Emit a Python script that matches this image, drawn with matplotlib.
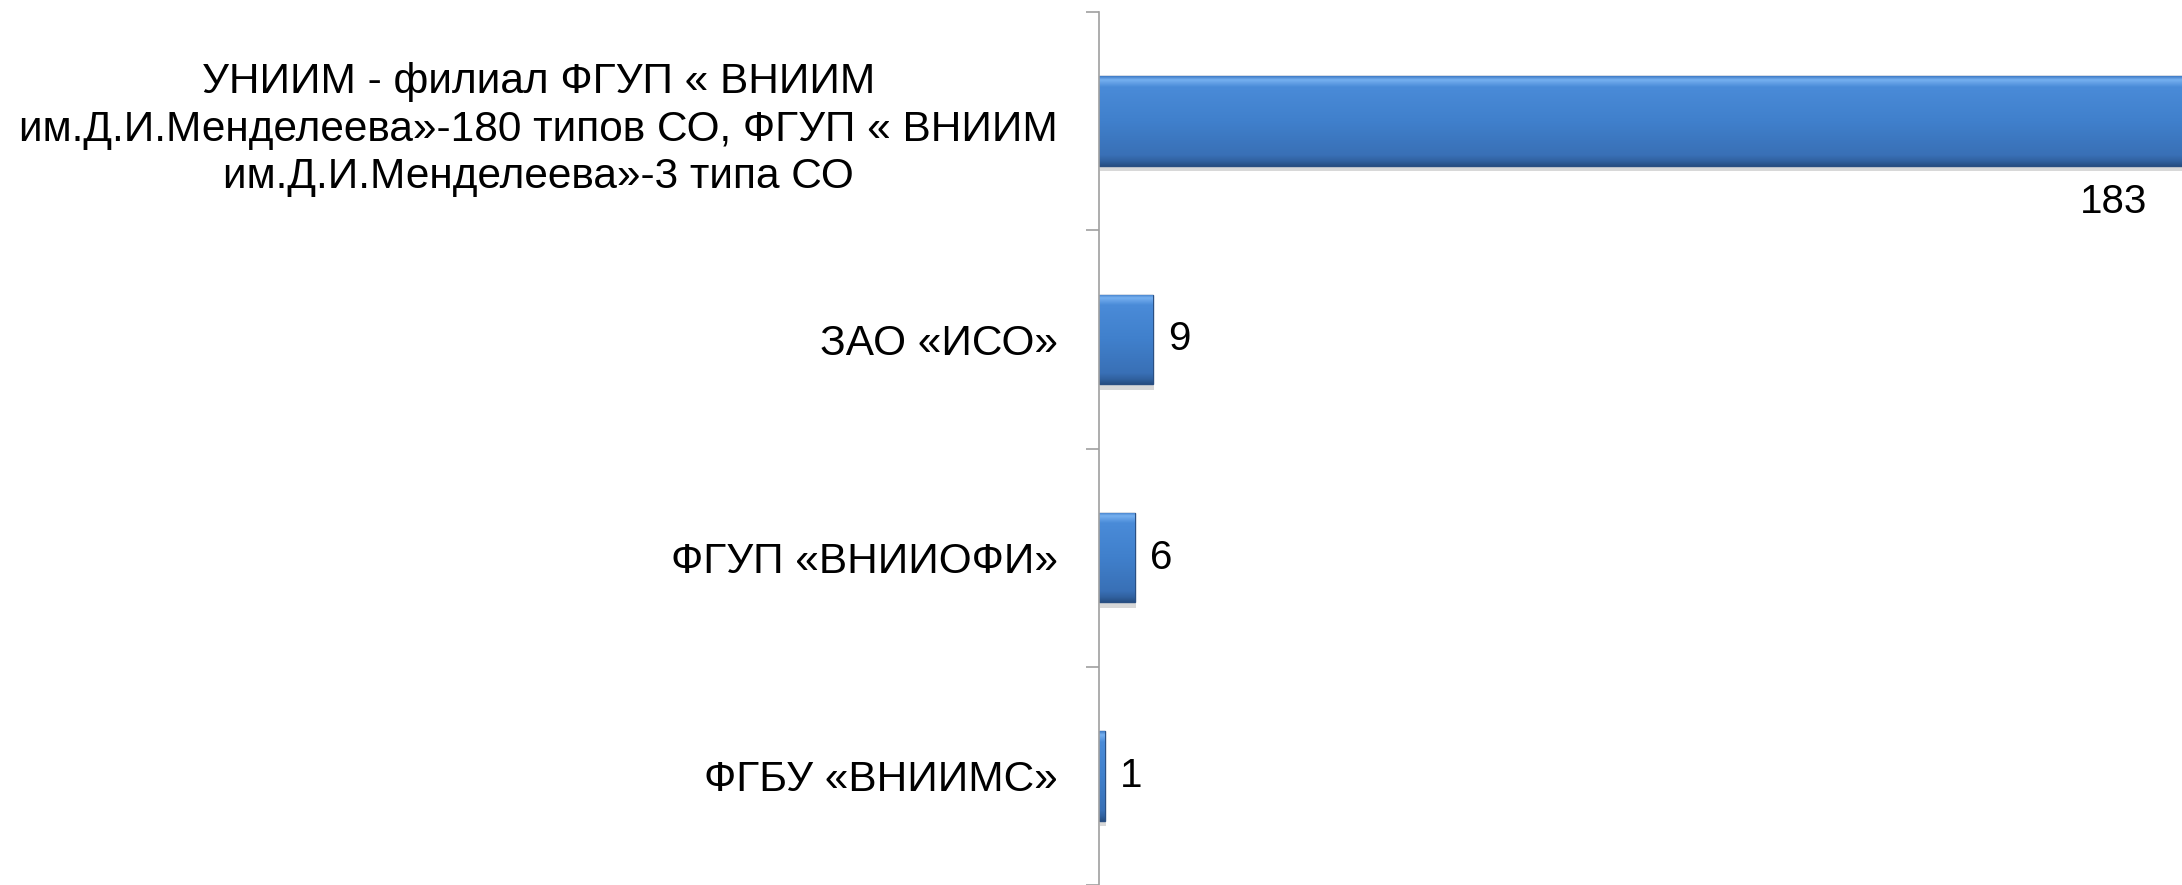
import numpy as np
import matplotlib
matplotlib.use('Agg')
import matplotlib.pyplot as plt
import matplotlib.patheffects as pe
from matplotlib.colors import LinearSegmentedColormap

plt.rcParams['font.family'] = ['Liberation Sans', 'DejaVu Sans']

categories = [
    'УНИИМ - филиал ФГУП « ВНИИМ\nим.Д.И.Менделеева»-180 типов СО, ФГУП « ВНИИМ\nим.Д.И.Менделеева»-3 типа СО',
    'ЗАО «ИСО»',
    'ФГУП «ВНИИОФИ»',
    'ФГБУ «ВНИИМС»',
]
values = [183, 9, 6, 1]

DPI = 100
fig = plt.figure(figsize=(21.82, 8.85), dpi=DPI)
ax = fig.add_axes([1099 / 2182, 0.0, 1 - 1099 / 2182, 1 - 12 / 885])

y = np.arange(len(categories))
bars = ax.barh(y, values, height=0.41, color='#3F7DC8', edgecolor='#2A4F82',
               linewidth=1.0, zorder=2)

# bevel-ish vertical gradient, top -> bottom
grad = LinearSegmentedColormap.from_list('bar', [
    (0.00, '#3E7BC6'), (0.04, '#76B0F0'), (0.12, '#4A8BD8'),
    (0.50, '#4080CC'), (0.88, '#3970B6'), (0.95, '#30609E'), (1.00, '#274E82')])
g = np.linspace(0, 1, 256).reshape(-1, 1)
for b in bars:
    b.set_path_effects([pe.SimplePatchShadow(offset=(1, -4), shadow_rgbFace='#808080', alpha=0.3),
                        pe.Normal()])
    x0, y0, w, h = b.get_x(), b.get_y(), b.get_width(), b.get_height()
    im = ax.imshow(g, cmap=grad, aspect='auto', origin='upper',
                   extent=(x0, x0 + w, y0 + h, y0), zorder=2.5)
    im.set_clip_path(b)
ax.set_xlim(0, (2182 - 1099) / 6.0)
ax.set_ylim(len(categories) - 0.5, -0.5)

# value labels
for yi, v in zip(y, values):
    if v > ax.get_xlim()[1]:
        ax.annotate(str(v), xy=(1, yi), xycoords=('axes fraction', 'data'),
                    xytext=(-49, -58), textcoords='offset points',
                    ha='center', va='center', fontsize=29, color='black')
    else:
        ax.annotate(str(v), xy=(v, yi), xytext=(11, 0), textcoords='offset points',
                    ha='left', va='center', fontsize=29, color='black')

# ticks at category boundaries, labels at centres
ax.set_yticks(np.arange(-0.5, len(categories), 1.0))
ax.set_yticklabels([])
ax.set_yticks(y, minor=True)
ax.set_yticklabels(categories, minor=True, fontsize=30.5)
ax.tick_params(axis='y', which='major', direction='out', length=9.5, width=1.2, color='#A0A0A0')
ax.tick_params(axis='y', which='minor', length=0, pad=29.5)
for lab in ax.get_yticklabels(minor=True):
    lab.set_multialignment('center')
    lab.set_linespacing(1.25)

ax.xaxis.set_visible(False)
for s in ('top', 'right', 'bottom'):
    ax.spines[s].set_visible(False)
ax.spines['left'].set_color('#A0A0A0')
ax.spines['left'].set_linewidth(1.2)

fig.savefig('out.png', dpi=DPI)
